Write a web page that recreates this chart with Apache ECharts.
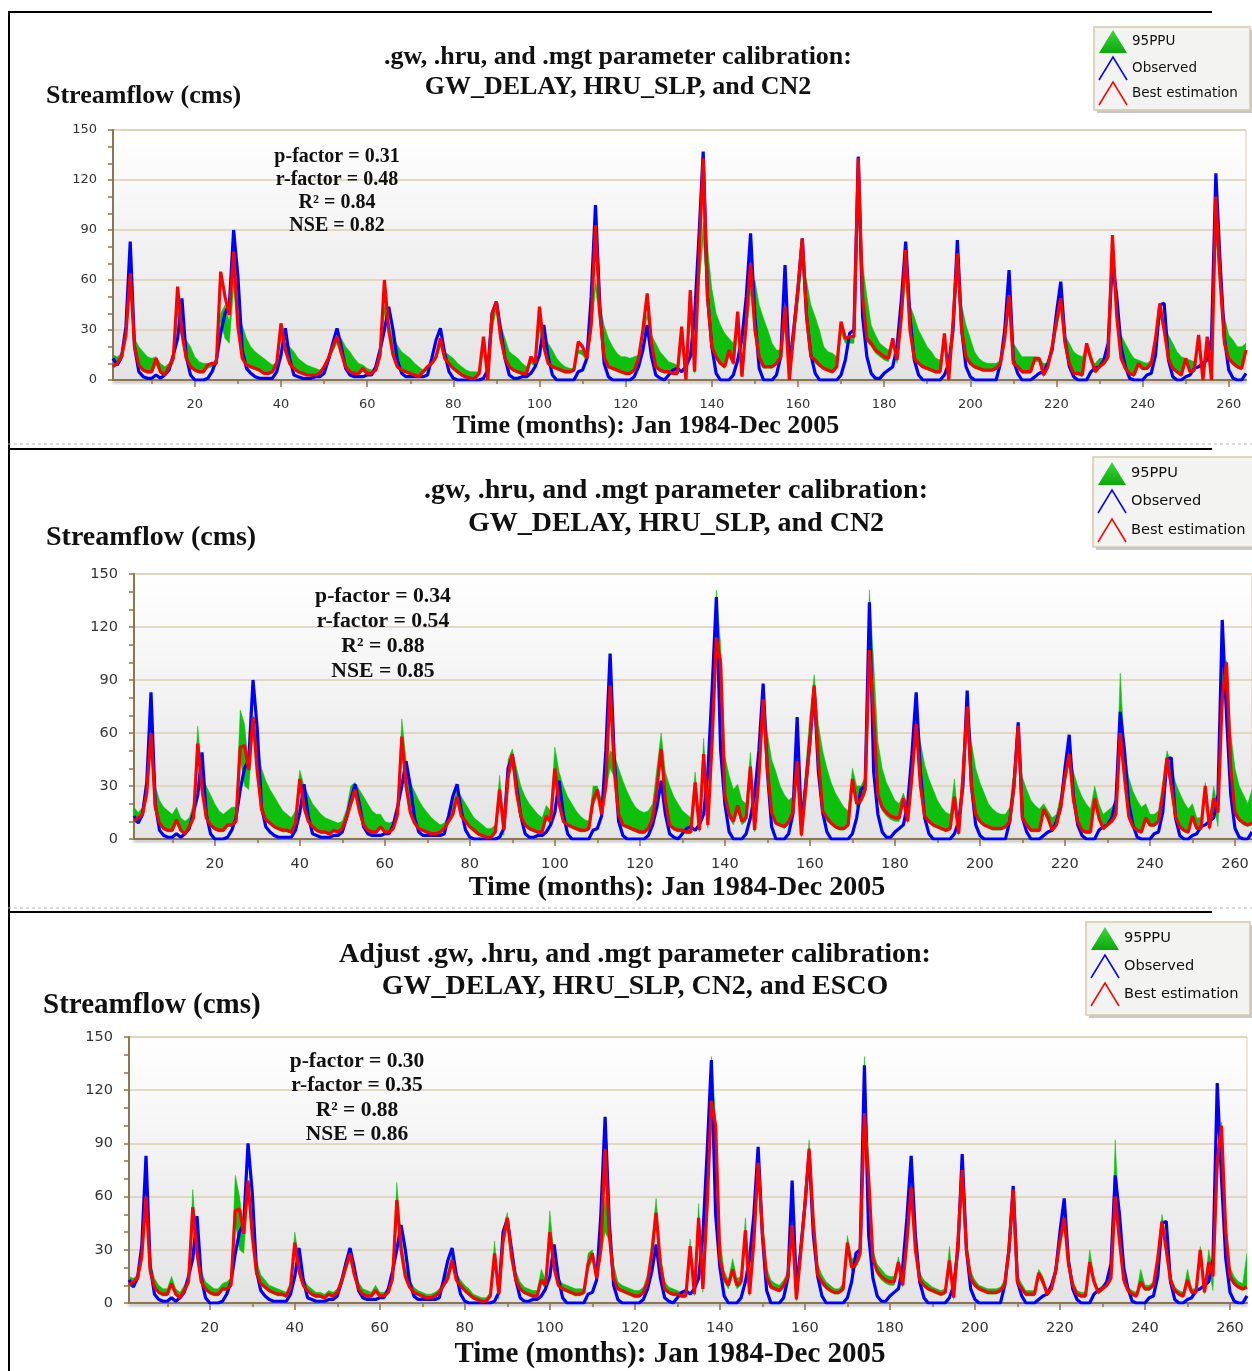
<!DOCTYPE html>
<html>
<head>
<meta charset="utf-8">
<script src="https://cdn.jsdelivr.net/npm/echarts@6/dist/echarts.min.js"></script>
<style>
  html, body { margin: 0; padding: 0; background: #fff; }
  #chart { width: 1252px; height: 1371px; }
</style>
</head>
<body>
<div id="chart"></div>
<script>
// monthly streamflow, Jan 1984 - Dec 2005 (one year per row)
const observed = [
  13, 9, 14, 32, 83, 20, 5, 2, 1, 1, 3, 1,
  3, 6, 15, 25, 49, 14, 3, 0, 0, 0, 1, 5,
  12, 28, 40, 45, 90, 62, 18, 7, 4, 2, 1, 1,
  1, 1, 5, 15, 31, 13, 3, 2, 1, 1, 1, 2,
  2, 4, 12, 22, 31, 20, 7, 3, 2, 2, 2, 3,
  3, 8, 18, 30, 44, 30, 12, 4, 2, 2, 2, 2,
  2, 3, 13, 24, 31, 16, 5, 1, 0, 0, 0, 0,
  0, 0, 1, 6, 40, 47, 30, 13, 3, 1, 1, 2,
  2, 4, 8, 15, 33, 14, 3, 0, 0, 0, 0, 0,
  5, 6, 13, 50, 105, 45, 10, 2, 0, 0, 0, 0,
  0, 2, 8, 18, 33, 14, 3, 1, 0, 3, 6, 7,
  5, 8, 14, 38, 85, 137, 50, 20, 4, 0, 0, 0,
  3, 12, 25, 50, 88, 38, 7, 0, 0, 0, 3, 14,
  69, 8, 30, 55, 85, 38, 15, 4, 0, 0, 0, 0,
  0, 3, 12, 28, 30, 134, 38, 14, 4, 1, 1, 4,
  6, 8, 20, 48, 83, 38, 12, 3, 0, 0, 0, 0,
  0, 3, 10, 30, 84, 30, 8, 2, 0, 0, 0, 0,
  0, 0, 10, 30, 66, 12, 4, 0, 0, 0, 2, 4,
  5, 10, 18, 40, 59, 24, 8, 2, 0, 0, 0, 5,
  7, 8, 12, 22, 72, 50, 20, 8, 1, 0, 0, 0,
  3, 4, 15, 45, 46, 12, 2, 0, 0, 2, 3, 7,
  8, 10, 12, 25, 124, 70, 25, 6, 1, 0, 0, 4
];

// panel 1 : best estimation and 95PPU bounds
const best1 = [
  8, 10, 14, 27, 64, 20, 9, 6, 5, 5, 13, 5,
  3, 8, 13, 56, 28, 13, 8, 6, 5, 5, 9, 10,
  10, 65, 50, 39, 77, 32, 13, 9, 8, 7, 6, 4,
  4, 5, 10, 34, 18, 10, 7, 5, 4, 3, 3, 3,
  4, 8, 13, 20, 26, 16, 8, 5, 4, 4, 7, 4,
  4, 6, 15, 60, 30, 15, 8, 6, 5, 4, 3, 2,
  5, 8, 10, 14, 25, 13, 10, 7, 5, 3, 2, 1,
  1, 4, 26, 0, 40, 47, 25, 13, 8, 6, 5, 4,
  4, 14, 10, 44, 20, 10, 8, 7, 6, 5, 5, 6,
  23, 20, 13, 33, 93, 40, 14, 8, 7, 6, 5, 4,
  4, 6, 13, 30, 52, 22, 8, 6, 5, 5, 4, 4,
  32, 0, 54, 5, 70, 133, 50, 20, 14, 10, 8, 18,
  10, 41, 2, 35, 70, 30, 14, 8, 8, 8, 10, 14,
  44, 0, 28, 55, 85, 38, 14, 12, 9, 7, 6, 5,
  8, 35, 25, 26, 26, 133, 50, 25, 22, 18, 16, 14,
  13, 25, 12, 38, 78, 30, 13, 10, 8, 7, 6, 5,
  5, 28, 0, 35, 76, 30, 14, 10, 8, 7, 6, 6,
  6, 7, 10, 25, 51, 10, 8, 5, 5, 5, 13, 13,
  3, 8, 20, 35, 49, 22, 10, 4, 4, 3, 22, 13,
  5, 8, 10, 14, 87, 38, 13, 7, 4, 3, 10, 7,
  7, 10, 25, 46, 30, 13, 7, 5, 3, 13, 5, 6,
  27, 0, 26, 0, 110, 60, 22, 13, 10, 8, 7, 18
];
const lower1 = [
  8, 9, 12, 25, 55, 18, 8, 5, 4, 4, 9, 4,
  3, 6, 10, 40, 24, 12, 7, 5, 4, 4, 7, 8,
  9, 35, 25, 22, 55, 30, 12, 8, 7, 6, 5, 4,
  3, 4, 8, 25, 17, 9, 6, 4, 3, 3, 2, 3,
  3, 6, 11, 17, 22, 15, 7, 4, 3, 3, 5, 3,
  3, 5, 12, 40, 28, 14, 7, 5, 4, 3, 2, 2,
  4, 6, 9, 12, 20, 12, 9, 6, 4, 2, 1, 1,
  1, 3, 18, 0, 30, 42, 23, 12, 7, 5, 4, 3,
  3, 10, 8, 30, 18, 9, 7, 6, 5, 4, 4, 5,
  16, 15, 11, 28, 55, 35, 13, 7, 6, 5, 4, 3,
  3, 5, 11, 26, 38, 20, 7, 5, 4, 4, 3, 3,
  22, 0, 38, 4, 55, 85, 45, 18, 12, 9, 7, 14,
  9, 30, 2, 28, 52, 28, 13, 7, 7, 7, 9, 12,
  32, 0, 22, 45, 70, 35, 13, 10, 8, 6, 5, 4,
  7, 28, 22, 22, 22, 100, 45, 23, 20, 16, 14, 12,
  11, 20, 10, 32, 62, 28, 12, 9, 7, 6, 5, 4,
  4, 22, 0, 30, 62, 28, 13, 9, 7, 6, 5, 5,
  5, 6, 9, 22, 42, 9, 7, 4, 4, 4, 11, 11,
  2, 7, 17, 30, 42, 20, 9, 3, 3, 2, 18, 11,
  4, 7, 9, 12, 68, 34, 12, 6, 3, 2, 8, 6,
  6, 9, 20, 38, 28, 12, 6, 4, 2, 11, 4, 5,
  20, 0, 20, 0, 85, 55, 20, 12, 9, 7, 6, 15
];
const upper1 = [
  15, 14, 16, 28, 60, 25, 20, 17, 14, 13, 14, 10,
  8, 10, 14, 45, 28, 24, 20, 14, 11, 10, 10, 10,
  12, 40, 45, 35, 60, 40, 33, 25, 20, 17, 15, 13,
  11, 9, 11, 28, 22, 20, 17, 13, 11, 9, 8, 7,
  6, 8, 13, 20, 25, 25, 20, 17, 13, 10, 9, 7,
  6, 8, 14, 45, 35, 25, 21, 17, 15, 13, 10, 8,
  6, 7, 10, 15, 22, 17, 15, 13, 10, 8, 6, 5,
  5, 5, 20, 3, 35, 47, 33, 25, 17, 15, 13, 10,
  8, 12, 12, 35, 27, 22, 18, 13, 10, 8, 7, 7,
  18, 18, 14, 30, 60, 45, 33, 25, 20, 16, 14, 14,
  13, 14, 15, 28, 40, 27, 22, 17, 14, 11, 10, 9,
  25, 5, 40, 10, 60, 95, 80, 55, 40, 33, 28, 25,
  22, 35, 10, 30, 55, 60, 45, 37, 30, 22, 18, 18,
  35, 5, 25, 50, 75, 60, 45, 38, 30, 20, 17, 16,
  14, 30, 25, 25, 25, 110, 70, 50, 33, 27, 22, 20,
  18, 22, 16, 35, 65, 45, 38, 30, 25, 20, 17, 13,
  12, 25, 5, 32, 65, 45, 33, 25, 17, 13, 11, 10,
  10, 10, 12, 25, 45, 22, 18, 14, 14, 14, 14, 13,
  10, 10, 18, 32, 45, 27, 22, 17, 15, 14, 20, 10,
  10, 13, 13, 15, 70, 38, 27, 22, 17, 13, 12, 11,
  10, 12, 22, 40, 35, 27, 22, 17, 14, 13, 12, 11,
  22, 8, 22, 10, 90, 60, 38, 27, 24, 20, 20, 22
];

// panels 2 and 3 : best estimation (same in both) and their 95PPU bounds
const bestB = [
  10, 12, 14, 26, 60, 18, 9, 6, 5, 5, 11, 5,
  3, 7, 12, 54, 28, 12, 8, 6, 5, 5, 8, 8,
  10, 52, 53, 39, 69, 38, 17, 11, 9, 7, 6, 5,
  5, 4, 9, 34, 18, 10, 7, 5, 4, 4, 3, 5,
  4, 6, 12, 20, 28, 16, 8, 5, 4, 4, 7, 4,
  4, 6, 14, 58, 30, 15, 9, 6, 5, 4, 3, 3,
  4, 6, 10, 14, 24, 13, 10, 7, 5, 3, 2, 1,
  1, 4, 28, 5, 35, 48, 26, 13, 8, 6, 5, 4,
  4, 13, 10, 40, 20, 10, 8, 7, 6, 5, 5, 6,
  22, 28, 14, 30, 87, 38, 14, 8, 7, 6, 5, 4,
  4, 6, 12, 28, 51, 22, 8, 6, 5, 5, 4, 4,
  32, 5, 48, 8, 55, 114, 100, 25, 14, 10, 19, 10,
  12, 41, 5, 35, 79, 40, 15, 9, 8, 7, 10, 15,
  44, 2, 28, 55, 87, 45, 16, 12, 9, 7, 6, 6,
  8, 34, 20, 22, 28, 107, 70, 25, 18, 15, 13, 12,
  12, 23, 10, 35, 65, 30, 13, 10, 8, 7, 6, 5,
  6, 24, 3, 35, 75, 30, 14, 10, 8, 7, 6, 6,
  6, 7, 10, 30, 64, 12, 8, 5, 5, 5, 17, 12,
  5, 8, 18, 35, 48, 22, 10, 5, 4, 4, 23, 12,
  6, 8, 10, 14, 60, 35, 13, 7, 5, 4, 12, 8,
  8, 10, 25, 46, 30, 13, 7, 5, 4, 13, 6, 6,
  30, 6, 23, 15, 80, 100, 40, 15, 11, 9, 8, 9
];
const lowerB = [
  9, 10, 12, 24, 55, 16, 8, 5, 4, 4, 9, 4,
  2, 6, 10, 48, 25, 11, 7, 5, 4, 4, 7, 7,
  9, 45, 30, 28, 62, 34, 15, 10, 8, 6, 5, 4,
  4, 3, 8, 30, 16, 9, 6, 4, 3, 3, 2, 4,
  3, 5, 10, 18, 25, 14, 7, 4, 3, 3, 6, 3,
  3, 5, 12, 52, 27, 13, 8, 5, 4, 3, 2, 2,
  3, 5, 9, 12, 22, 12, 9, 6, 4, 2, 1, 1,
  1, 3, 24, 2, 32, 44, 24, 12, 7, 5, 4, 3,
  3, 11, 8, 34, 18, 9, 7, 6, 5, 4, 4, 5,
  19, 24, 12, 27, 40, 35, 12, 7, 6, 5, 4, 3,
  3, 5, 10, 25, 46, 20, 7, 5, 4, 4, 3, 3,
  28, 4, 43, 6, 52, 105, 92, 22, 12, 8, 16, 8,
  10, 36, 4, 31, 72, 36, 13, 8, 7, 6, 8, 13,
  40, 1, 25, 50, 80, 40, 14, 10, 8, 6, 5, 5,
  7, 30, 18, 20, 25, 98, 62, 22, 16, 13, 11, 10,
  10, 20, 9, 31, 60, 27, 11, 9, 7, 6, 5, 4,
  5, 21, 2, 31, 68, 27, 12, 9, 7, 6, 5, 5,
  5, 6, 9, 27, 58, 10, 7, 4, 4, 4, 15, 10,
  4, 7, 16, 31, 43, 20, 9, 4, 3, 3, 20, 10,
  5, 7, 9, 12, 54, 31, 11, 6, 4, 3, 10, 7,
  7, 9, 22, 42, 27, 11, 6, 4, 3, 11, 5, 5,
  27, 5, 20, 7, 72, 90, 36, 13, 10, 8, 7, 8
];
const upper2 = [
  18, 15, 18, 35, 62, 30, 22, 18, 16, 14, 18, 12,
  10, 12, 20, 64, 35, 30, 25, 20, 16, 14, 16, 18,
  18, 73, 65, 40, 70, 55, 40, 33, 28, 24, 20, 16,
  14, 12, 16, 39, 30, 25, 20, 17, 14, 12, 11, 10,
  9, 10, 17, 30, 32, 28, 24, 20, 16, 14, 14, 10,
  9, 10, 18, 68, 45, 32, 27, 22, 18, 15, 12, 10,
  8, 9, 14, 20, 28, 24, 20, 16, 12, 10, 8, 6,
  6, 8, 36, 8, 45, 51, 40, 30, 24, 20, 17, 14,
  12, 19, 16, 52, 38, 30, 24, 20, 16, 13, 11, 10,
  30, 30, 22, 40, 50, 48, 40, 33, 27, 22, 18, 16,
  15, 16, 20, 40, 60, 38, 30, 24, 20, 16, 14, 12,
  38, 12, 57, 15, 75, 141, 110, 47, 36, 28, 31, 22,
  20, 49, 14, 45, 85, 60, 45, 38, 30, 25, 22, 24,
  50, 10, 40, 70, 93, 65, 50, 40, 32, 26, 22, 18,
  16, 40, 30, 30, 35, 141, 100, 55, 40, 32, 27, 22,
  20, 26, 18, 45, 75, 55, 42, 34, 28, 22, 18, 15,
  14, 34, 8, 45, 80, 55, 40, 32, 26, 20, 17, 15,
  14, 14, 18, 40, 66, 35, 28, 22, 19, 17, 20, 16,
  12, 14, 25, 42, 50, 38, 30, 24, 20, 17, 30, 20,
  14, 16, 18, 22, 94, 50, 35, 27, 22, 18, 20, 14,
  14, 16, 32, 50, 42, 32, 26, 21, 17, 20, 12, 12,
  32, 12, 30, 16, 95, 101, 60, 40, 30, 25, 20, 28
];
const upper3 = [
  15, 14, 16, 28, 60, 24, 14, 10, 8, 8, 15, 8,
  6, 10, 15, 64, 32, 18, 12, 10, 8, 8, 11, 12,
  14, 72, 60, 40, 69, 45, 24, 16, 13, 10, 9, 8,
  7, 6, 12, 40, 24, 14, 10, 8, 6, 6, 5, 7,
  6, 8, 15, 25, 31, 20, 12, 8, 7, 6, 10, 6,
  6, 8, 18, 68, 38, 20, 13, 9, 7, 6, 5, 5,
  6, 8, 13, 18, 28, 17, 13, 10, 8, 5, 4, 3,
  3, 6, 35, 6, 42, 51, 32, 18, 12, 9, 8, 7,
  7, 19, 13, 52, 26, 14, 11, 10, 9, 8, 8, 8,
  28, 30, 18, 35, 60, 48, 22, 12, 10, 9, 8, 7,
  7, 9, 16, 35, 59, 28, 12, 9, 8, 7, 6, 6,
  36, 8, 56, 10, 65, 139, 105, 37, 18, 13, 25, 14,
  15, 48, 8, 40, 82, 48, 20, 13, 11, 10, 13, 18,
  48, 5, 35, 62, 92, 52, 22, 16, 12, 10, 8, 8,
  11, 38, 25, 26, 32, 139, 80, 30, 22, 19, 16, 15,
  15, 26, 14, 40, 70, 36, 17, 13, 11, 9, 8, 7,
  8, 32, 5, 40, 78, 36, 18, 13, 10, 9, 8, 8,
  8, 9, 13, 34, 66, 16, 11, 7, 7, 7, 19, 15,
  7, 10, 22, 38, 50, 27, 13, 7, 6, 6, 30, 15,
  8, 10, 13, 17, 92, 40, 16, 9, 7, 6, 19, 10,
  10, 12, 28, 50, 36, 16, 9, 7, 6, 19, 8, 8,
  32, 8, 30, 18, 85, 102, 48, 20, 15, 12, 11, 28
];

const xLabelValues = [20, 40, 60, 80, 100, 120, 140, 160, 180, 200, 220, 240, 260];
const xMinorValues = [10, 30, 50, 70, 90, 110, 130, 150, 170, 190, 210, 230, 250];

const titles = [
  ['.gw, .hru, and .mgt parameter calibration:', 'GW_DELAY, HRU_SLP, and CN2'],
  ['.gw, .hru, and .mgt parameter calibration:', 'GW_DELAY, HRU_SLP, and CN2'],
  ['Adjust .gw, .hru, and .mgt parameter calibration:', 'GW_DELAY, HRU_SLP, CN2, and ESCO']
];
const stats = [
  ['p-factor = 0.31', 'r-factor = 0.48', 'R\u00b2 = 0.84', 'NSE = 0.82'],
  ['p-factor = 0.34', 'r-factor = 0.54', 'R\u00b2 = 0.88', 'NSE = 0.85'],
  ['p-factor = 0.30', 'r-factor = 0.35', 'R\u00b2 = 0.88', 'NSE = 0.86']
];
const legendNames = ['95PPU', 'Observed', 'Best estimation'];
const yName = 'Streamflow (cms)';
const xName = 'Time (months): Jan 1984-Dec 2005';

// layout of the three panels
const panels = [
  { left: 113, top: 130, width: 1133, height: 250, best: best1, lower: lower1, upper: upper1,
    tick: 13, big: 26, name: 26, stat: 20, titleX: 618, titleY: [57, 87], yNameX: 46, yNameY: 96,
    statX: 337, statY: 157, statGap: 23, xNameX: 646, xNameY: 426,
    legend: { x: 1094, y: 27, w: 156, h: 83, fs: 13.5, rows: [41, 68, 93] } },
  { left: 134, top: 574, width: 1125, height: 265, best: bestB, lower: lowerB, upper: upper2,
    tick: 14.5, big: 28, name: 28, stat: 21.7, titleX: 676, titleY: [491, 524], yNameX: 46, yNameY: 538,
    statX: 383, statY: 596, statGap: 25, xNameX: 677, xNameY: 888,
    legend: { x: 1093, y: 457, w: 162, h: 90, fs: 14.6, rows: [473, 501, 530] } },
  { left: 129, top: 1037, width: 1118, height: 266, best: bestB, lower: lowerB, upper: upper3,
    tick: 14.5, big: 28, name: 29, stat: 21.5, titleX: 635, titleY: [955, 987], yNameX: 43, yNameY: 1006,
    statX: 357, statY: 1061, statGap: 24.5, xNameX: 670, xNameY: 1355,
    legend: { x: 1086, y: 922, w: 164, h: 93, fs: 14.6, rows: [938, 966, 994] } }
];

const axisBrown = '#8c7650';
const gridTan = '#dccfb2';
const serif = '"Liberation Serif", "Times New Roman", serif';
const sans = '"DejaVu Sans", Verdana, sans-serif';

function pts(arr) {
  return arr.map((v, i) => [i + 1, v]);
}

const grid = [], xAxis = [], yAxis = [], series = [], graphic = [];

panels.forEach((p, i) => {
  grid.push({
    left: p.left, top: p.top, width: p.width, height: p.height,
    show: true, borderWidth: 1, borderColor: gridTan,
    backgroundColor: new echarts.graphic.LinearGradient(0, 0, 0, 1, [
      { offset: 0, color: '#ffffff' },
      { offset: 1, color: '#e3e3e3' }
    ])
  });
  // main x axis: labels and long ticks
  xAxis.push({
    type: 'value', gridIndex: i, min: 1, max: 264,
    axisLine: { lineStyle: { color: axisBrown, width: 2, shadowColor: 'rgba(0,0,0,0.35)', shadowBlur: 3, shadowOffsetY: 2 } },
    axisTick: { customValues: xLabelValues, length: 7, lineStyle: { color: axisBrown, width: 1.5 } },
    axisLabel: { customValues: xLabelValues, color: '#333', fontSize: p.tick, fontFamily: sans, margin: 18 },
    splitLine: { show: false }
  });
  // second x axis only for the short ticks between labels
  xAxis.push({
    type: 'value', gridIndex: i, min: 1, max: 264, position: 'bottom',
    axisLine: { show: false },
    axisTick: { customValues: xMinorValues, length: 4, lineStyle: { color: axisBrown, width: 1.5 } },
    axisLabel: { show: false },
    splitLine: { show: false }
  });
  yAxis.push({
    type: 'value', gridIndex: i, min: 0, max: 150, interval: 30,
    axisLine: { show: true, lineStyle: { color: axisBrown, width: 2 } },
    axisTick: { show: true, length: 5, lineStyle: { color: axisBrown, width: 1.5 } },
    minorTick: { show: true, splitNumber: 3, length: 5, lineStyle: { color: axisBrown, width: 1.5 } },
    axisLabel: { color: '#333', fontSize: p.tick, fontFamily: sans, margin: 16 },
    splitLine: { lineStyle: { color: gridTan, width: 1.5 } }
  });

  const lo = p.lower, up = p.upper;
  // 95PPU band: one polygon between lower and upper, placed through the axes
  series.push({
    type: 'custom', name: '95PPU', xAxisIndex: 2 * i, yAxisIndex: i, silent: true, clip: true,
    data: up.map((v, k) => [k + 1, lo[k], v]),
    encode: { x: 0, y: [1, 2] },
    renderItem: function (params, api) {
      if (params.dataIndex !== 0) return null;
      const top = [], bottom = [];
      for (let k = 0; k < up.length; k++) {
        top.push(api.coord([k + 1, up[k]]));
        bottom.push(api.coord([k + 1, lo[k]]));
      }
      return {
        type: 'polygon',
        shape: { points: top.concat(bottom.reverse()) },
        style: { fill: '#0cc00c', stroke: '#0cc00c', lineWidth: 0.5 }
      };
    }
  });
  const common = { xAxisIndex: 2 * i, yAxisIndex: i, symbol: 'none', silent: true };
  series.push(Object.assign({
    type: 'line', name: 'Observed', data: pts(observed),
    lineStyle: { color: '#0000ff', width: 3.2 }
  }, common));
  series.push(Object.assign({
    type: 'line', name: 'Best estimation', data: pts(p.best),
    lineStyle: { color: '#ff0000', width: 3.2 }
  }, common));

  // texts
  titles[i].forEach((t, k) => {
    graphic.push({ type: 'text', x: p.titleX, y: p.titleY[k],
      style: { text: t, fill: '#111', font: 'bold ' + p.big + 'px ' + serif, align: 'center', verticalAlign: 'middle' } });
  });
  graphic.push({ type: 'text', x: p.yNameX, y: p.yNameY,
    style: { text: yName, fill: '#111', font: 'bold ' + p.name + 'px ' + serif, align: 'left', verticalAlign: 'middle' } });
  graphic.push({ type: 'text', x: p.xNameX, y: p.xNameY,
    style: { text: xName, fill: '#111', font: 'bold ' + p.name + 'px ' + serif, align: 'center', verticalAlign: 'middle' } });
  stats[i].forEach((s, k) => {
    graphic.push({ type: 'text', x: p.statX, y: p.statY + k * p.statGap, z: 50,
      style: { text: s, fill: '#111', font: 'bold ' + p.stat + 'px ' + serif, align: 'center', verticalAlign: 'middle' } });
  });

  // legend box
  const L = p.legend;
  graphic.push({ type: 'rect', shape: { x: L.x + 3, y: L.y + 3, width: L.w, height: L.h },
    style: { fill: '#c8c8c8' }, z: 60 });
  graphic.push({ type: 'rect', shape: { x: L.x, y: L.y, width: L.w, height: L.h },
    style: { fill: '#f3f3f1', stroke: '#d6c9aa', lineWidth: 1.5 }, z: 61 });
  const tx = L.x + 5, tw = 28;
  const r0 = L.rows[0], r1 = L.rows[1], r2 = L.rows[2];
  graphic.push({ type: 'polygon', z: 62,
    shape: { points: [[tx, r0 + 12], [tx + tw / 2, r0 - 11], [tx + tw, r0 + 12]] },
    style: { fill: new echarts.graphic.LinearGradient(0, 0, 0, 1, [
      { offset: 0, color: '#3cd83c' }, { offset: 1, color: '#0aa80a' }]) } });
  graphic.push({ type: 'polyline', z: 62,
    shape: { points: [[tx, r1 + 12], [tx + tw / 2, r1 - 11], [tx + tw, r1 + 12]] },
    style: { stroke: '#0000ff', lineWidth: 1.5, fill: null } });
  graphic.push({ type: 'polyline', z: 62,
    shape: { points: [[tx, r2 + 12], [tx + tw / 2, r2 - 11], [tx + tw, r2 + 12]] },
    style: { stroke: '#ff0000', lineWidth: 1.5, fill: null } });
  legendNames.forEach((n, k) => {
    graphic.push({ type: 'text', x: tx + tw + 5, y: L.rows[k], z: 62,
      style: { text: n, fill: '#111', font: L.fs + 'px ' + sans, align: 'left', verticalAlign: 'middle' } });
  });
});

// frame lines around the panels
const frame = [
  { x1: 8, y1: 12, x2: 1212, y2: 12 },
  { x1: 9, y1: 12, x2: 9, y2: 1371 },
  { x1: 8, y1: 449, x2: 1212, y2: 449 },
  { x1: 8, y1: 912, x2: 1212, y2: 912 }
];
frame.forEach(f => {
  graphic.push({ type: 'line', z: 70, shape: { x1: f.x1, y1: f.y1, x2: f.x2, y2: f.y2 },
    style: { stroke: '#000', lineWidth: 2 } });
});
[444, 908].forEach(y => {
  graphic.push({ type: 'line', z: 70, shape: { x1: 8, y1: y, x2: 1252, y2: y },
    style: { stroke: '#b8b8b8', lineWidth: 1, lineDash: [3, 3] } });
});

const myChart = echarts.init(document.getElementById('chart'));
myChart.setOption({
  animation: false,
  backgroundColor: '#ffffff',
  grid: grid,
  xAxis: xAxis,
  yAxis: yAxis,
  series: series,
  graphic: graphic
});
</script>
</body>
</html>
